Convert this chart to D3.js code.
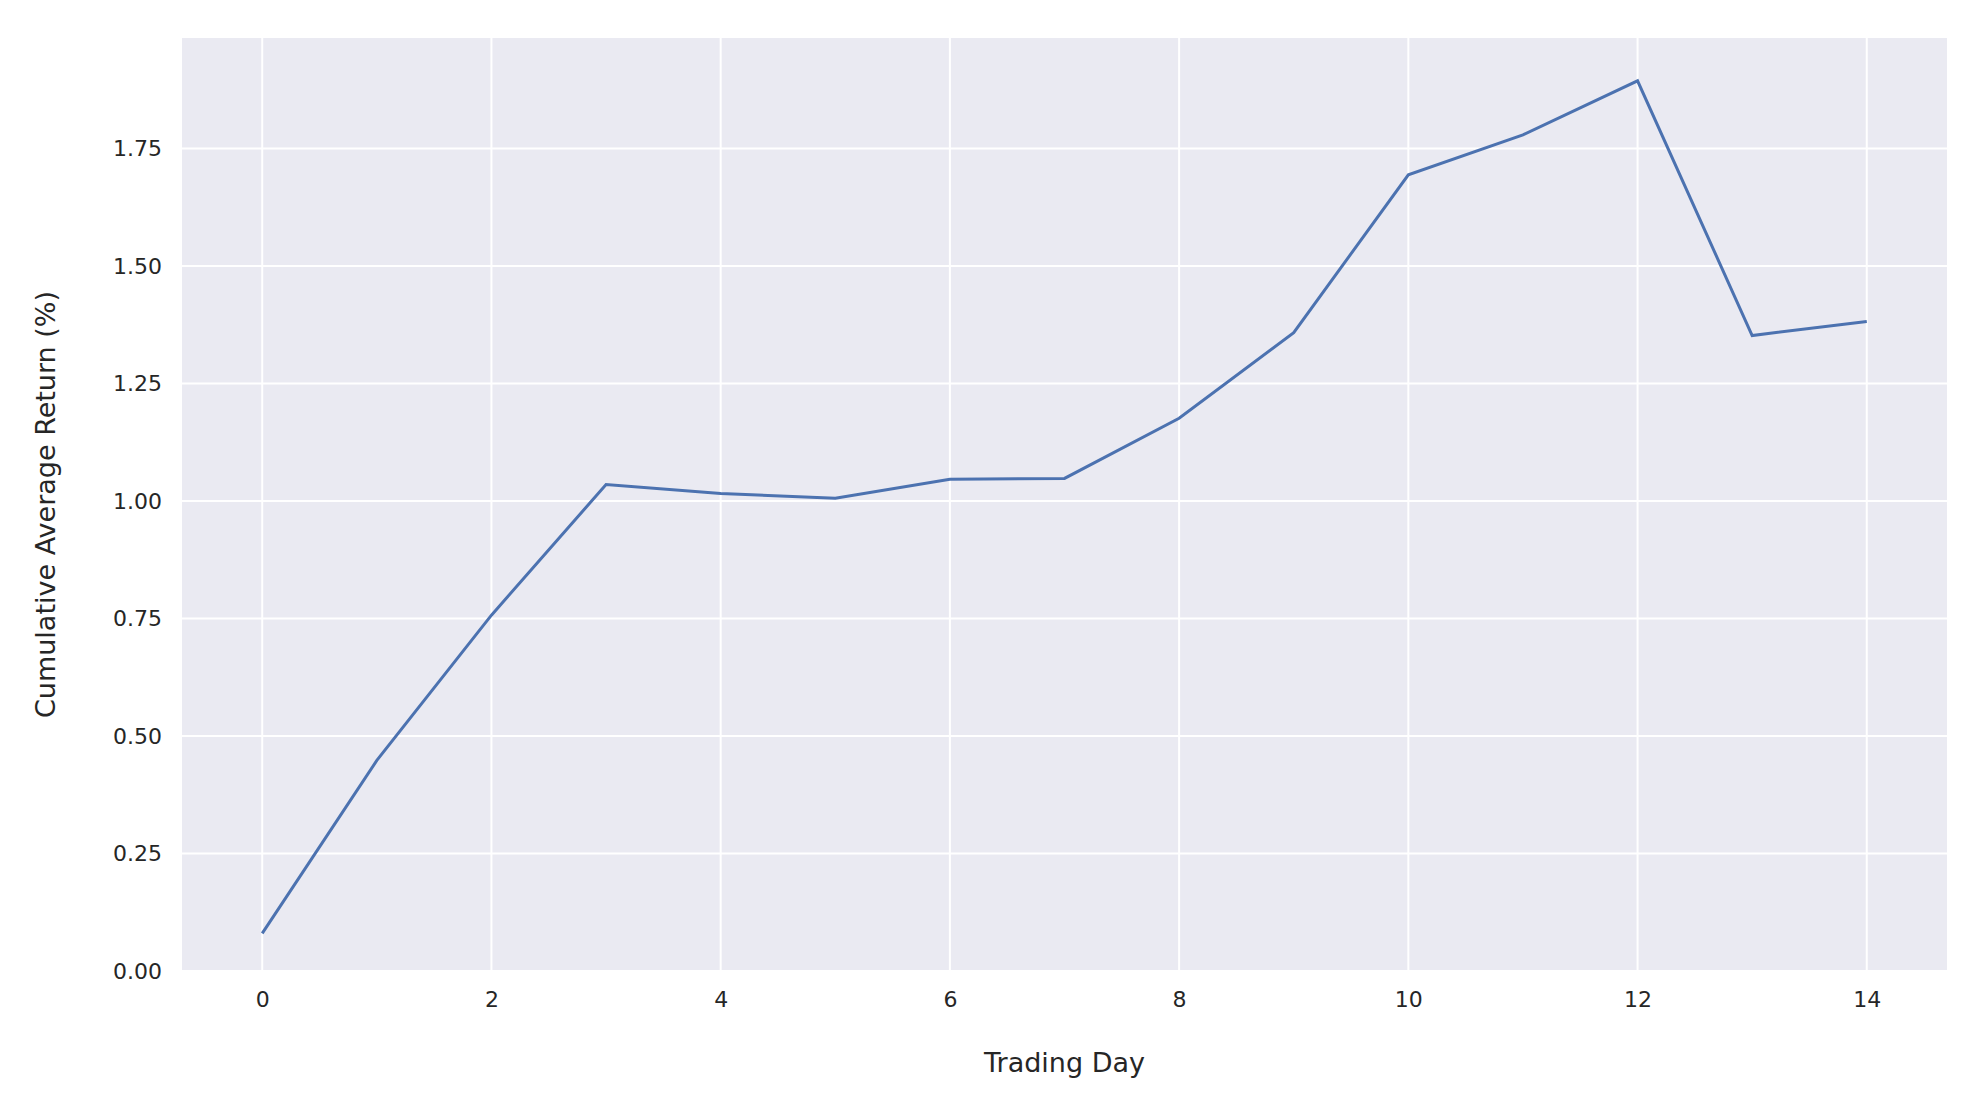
<!DOCTYPE html>
<html>
<head>
<meta charset="utf-8">
<script src="https://cdn.jsdelivr.net/npm/d3@7"></script>
<style>
  body { margin: 0; background: #fff; }
  text { font-family: "DejaVu Sans", sans-serif; fill: #262626; }
</style>
</head>
<body>
<svg id="chart" width="1965" height="1101"></svg>
<script>
// trading days and cumulative average return (%)
const days = [0, 1, 2, 3, 4, 5, 6, 7, 8, 9, 10, 11, 12, 13, 14];
const returns = [0.08, 0.448, 0.757, 1.035, 1.016, 1.006, 1.046, 1.048, 1.176, 1.358, 1.694, 1.779, 1.894, 1.352, 1.382];
const xTicks = [0, 2, 4, 6, 8, 10, 12, 14];
const yTicks = [0, 0.25, 0.5, 0.75, 1.0, 1.25, 1.5, 1.75];

const plotLeft = 182, plotRight = 1947, plotTop = 38, plotBottom = 971;
const svg = d3.select('#chart');

const x = d3.scaleLinear().domain([-0.7, 14.7]).range([plotLeft, plotRight]);
const y = d3.scaleLinear().domain([0, 1.985]).range([plotBottom, plotTop]);

svg.append('rect')
    .attr('x', plotLeft).attr('y', plotTop)
    .attr('width', plotRight - plotLeft).attr('height', plotBottom - plotTop)
    .attr('fill', '#eaeaf2');

// grid
svg.append('g').selectAll('line').data(xTicks).join('line')
    .attr('x1', d => x(d)).attr('x2', d => x(d))
    .attr('y1', plotTop).attr('y2', plotBottom)
    .attr('stroke', '#fff').attr('stroke-width', 2);
svg.append('g').selectAll('line').data(yTicks).join('line')
    .attr('x1', plotLeft).attr('x2', plotRight)
    .attr('y1', d => y(d)).attr('y2', d => y(d))
    .attr('stroke', '#fff').attr('stroke-width', 2);

const xAxis = svg.append('g')
    .attr('transform', `translate(0, ${plotBottom})`)
    .call(d3.axisBottom(x).tickValues(xTicks).tickSize(0).tickPadding(20).tickFormat(d3.format('d')));
const yAxis = svg.append('g')
    .attr('transform', `translate(${plotLeft}, 0)`)
    .call(d3.axisLeft(y).tickValues(yTicks).tickSize(0).tickPadding(20).tickFormat(d3.format('.2f')));
[xAxis, yAxis].forEach(a => {
    a.select('.domain').remove();
    a.selectAll('text').attr('font-size', '22px').attr('fill', '#262626');
});

svg.append('path')
    .datum(days.map((d, i) => [d, returns[i]]))
    .attr('fill', 'none')
    .attr('stroke', '#4c72b0')
    .attr('stroke-width', 3)
    .attr('d', d3.line().x(d => x(d[0])).y(d => y(d[1])));

svg.append('text')
    .attr('x', (plotLeft + plotRight) / 2).attr('y', 1072)
    .attr('text-anchor', 'middle').attr('font-size', '27px')
    .text('Trading Day');

svg.append('text')
    .attr('transform', `translate(55, ${(plotTop + plotBottom) / 2}) rotate(-90)`)
    .attr('text-anchor', 'middle').attr('font-size', '27px')
    .text('Cumulative Average Return (%)');
</script>
</body>
</html>
